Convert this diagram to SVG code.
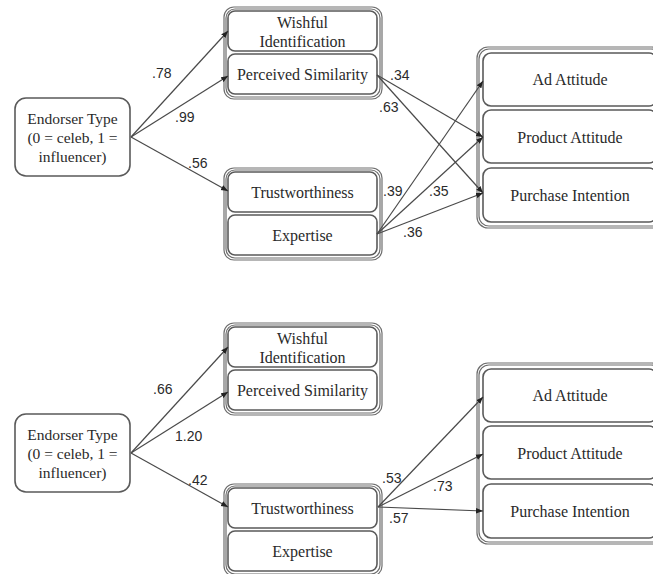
<svg xmlns="http://www.w3.org/2000/svg" width="653" height="574" viewBox="0 0 653 574">
  <style>
    .box { fill: #fff; stroke: #5a5a5a; stroke-width: 1.6; }
    .grp { fill: none; stroke: #6e6e6e; stroke-width: 1.2; }
    .t { font-family: "Liberation Serif", "Times New Roman", serif; font-size: 16px; fill: #2a2a2a; text-anchor: middle; }
    .t.src { font-size: 15.5px; }
    .lbl { font-family: "Liberation Sans", Arial, sans-serif; font-size: 14px; fill: #2a2a2a; }
    .edge { stroke: #4a4a4a; stroke-width: 1.2; fill: none; marker-end: url(#arrow); }
  </style>
  <defs>
    <marker id="arrow" viewBox="0 0 10 10" refX="10" refY="5" markerWidth="7" markerHeight="7" markerUnits="userSpaceOnUse" orient="auto">
      <path d="M0,1 L10,5 L0,9 z" fill="#222"/>
    </marker>
  </defs>
  <rect width="653" height="574" fill="#fff"/>

  <!-- Model 1 -->
  <g id="model1">
    <g id="m1-endorser">
      <rect class="box" x="15" y="98" width="115" height="78" rx="11"/>
      <text class="t src" x="72.5" y="124">Endorser Type</text>
      <text class="t src" x="72.5" y="143">(0 = celeb, 1 =</text>
      <text class="t src" x="72.5" y="162">influencer)</text>
    </g>
    <g id="m1-identification">
      <rect class="grp" x="224" y="7" width="158" height="92" rx="10"/>
      <rect class="grp" x="226" y="9" width="154" height="88" rx="9"/>
      <g id="m1-wishful">
        <rect class="box" x="228" y="11" width="149" height="40" rx="7"/>
        <text class="t" x="302.5" y="28">Wishful</text>
        <text class="t" x="302.5" y="47">Identification</text>
      </g>
      <g id="m1-similarity">
        <rect class="box" x="228" y="54" width="149" height="40" rx="7"/>
        <text class="t" x="302.5" y="79.5">Perceived Similarity</text>
      </g>
    </g>
    <g id="m1-credibility">
      <rect class="grp" x="224" y="168" width="158" height="92" rx="10"/>
      <rect class="grp" x="226" y="170" width="154" height="88" rx="9"/>
      <g id="m1-trust">
        <rect class="box" x="228" y="172" width="149" height="40" rx="7"/>
        <text class="t" x="302.5" y="197.5">Trustworthiness</text>
      </g>
      <g id="m1-expertise">
        <rect class="box" x="228" y="215" width="149" height="40" rx="7"/>
        <text class="t" x="302.5" y="240.5">Expertise</text>
      </g>
    </g>
    <g id="m1-outcomes">
      <rect class="grp" x="477" y="47" width="186" height="181" rx="11"/>
      <rect class="grp" x="479" y="49" width="182" height="177" rx="10"/>
      <g id="m1-ad">
        <rect class="box" x="483" y="53" width="174" height="53" rx="8"/>
        <text class="t" x="570" y="85">Ad Attitude</text>
      </g>
      <g id="m1-product">
        <rect class="box" x="483" y="110" width="174" height="53" rx="8"/>
        <text class="t" x="570" y="142.5">Product Attitude</text>
      </g>
      <g id="m1-purchase">
        <rect class="box" x="483" y="168" width="174" height="54" rx="8"/>
        <text class="t" x="570" y="200.5">Purchase Intention</text>
      </g>
    </g>
    <g id="m1-connectors">
      <line class="edge" x1="131" y1="137" x2="228" y2="31"/>
      <line class="edge" x1="131" y1="137" x2="228" y2="76"/>
      <line class="edge" x1="131" y1="137" x2="228" y2="191"/>
      <line class="edge" x1="377" y1="75" x2="483" y2="137"/>
      <line class="edge" x1="377" y1="75" x2="483" y2="193"/>
      <line class="edge" x1="377" y1="234" x2="483" y2="81"/>
      <line class="edge" x1="377" y1="234" x2="483" y2="137"/>
      <line class="edge" x1="377" y1="234" x2="483" y2="193"/>
      <text class="lbl" x="152" y="78">.78</text>
      <text class="lbl" x="175" y="122">.99</text>
      <text class="lbl" x="188" y="168">.56</text>
      <text class="lbl" x="390" y="80">.34</text>
      <text class="lbl" x="379" y="112">.63</text>
      <text class="lbl" x="383" y="196">.39</text>
      <text class="lbl" x="429" y="196">.35</text>
      <text class="lbl" x="403" y="237">.36</text>
    </g>
  </g>

  <!-- Model 2 -->
  <g id="model2" transform="translate(0,316)">
    <g id="m2-endorser">
      <rect class="box" x="15" y="98" width="115" height="78" rx="11"/>
      <text class="t src" x="72.5" y="124">Endorser Type</text>
      <text class="t src" x="72.5" y="143">(0 = celeb, 1 =</text>
      <text class="t src" x="72.5" y="162">influencer)</text>
    </g>
    <g id="m2-identification">
      <rect class="grp" x="224" y="7" width="158" height="92" rx="10"/>
      <rect class="grp" x="226" y="9" width="154" height="88" rx="9"/>
      <g id="m2-wishful">
        <rect class="box" x="228" y="11" width="149" height="40" rx="7"/>
        <text class="t" x="302.5" y="28">Wishful</text>
        <text class="t" x="302.5" y="47">Identification</text>
      </g>
      <g id="m2-similarity">
        <rect class="box" x="228" y="54" width="149" height="40" rx="7"/>
        <text class="t" x="302.5" y="79.5">Perceived Similarity</text>
      </g>
    </g>
    <g id="m2-credibility">
      <rect class="grp" x="224" y="168" width="158" height="92" rx="10"/>
      <rect class="grp" x="226" y="170" width="154" height="88" rx="9"/>
      <g id="m2-trust">
        <rect class="box" x="228" y="172" width="149" height="40" rx="7"/>
        <text class="t" x="302.5" y="197.5">Trustworthiness</text>
      </g>
      <g id="m2-expertise">
        <rect class="box" x="228" y="215" width="149" height="40" rx="7"/>
        <text class="t" x="302.5" y="240.5">Expertise</text>
      </g>
    </g>
    <g id="m2-outcomes">
      <rect class="grp" x="477" y="47" width="186" height="181" rx="11"/>
      <rect class="grp" x="479" y="49" width="182" height="177" rx="10"/>
      <g id="m2-ad">
        <rect class="box" x="483" y="53" width="174" height="53" rx="8"/>
        <text class="t" x="570" y="85">Ad Attitude</text>
      </g>
      <g id="m2-product">
        <rect class="box" x="483" y="110" width="174" height="53" rx="8"/>
        <text class="t" x="570" y="142.5">Product Attitude</text>
      </g>
      <g id="m2-purchase">
        <rect class="box" x="483" y="168" width="174" height="54" rx="8"/>
        <text class="t" x="570" y="200.5">Purchase Intention</text>
      </g>
    </g>
    <g id="m2-connectors">
      <line class="edge" x1="131" y1="137" x2="228" y2="31"/>
      <line class="edge" x1="131" y1="137" x2="228" y2="76"/>
      <line class="edge" x1="131" y1="137" x2="228" y2="191"/>
      <line class="edge" x1="378" y1="191" x2="483" y2="81"/>
      <line class="edge" x1="378" y1="191" x2="483" y2="138"/>
      <line class="edge" x1="378" y1="191" x2="483" y2="195"/>
      <text class="lbl" x="153" y="78">.66</text>
      <text class="lbl" x="175" y="125">1.20</text>
      <text class="lbl" x="188" y="169">.42</text>
      <text class="lbl" x="382" y="167">.53</text>
      <text class="lbl" x="433" y="175">.73</text>
      <text class="lbl" x="389" y="207">.57</text>
    </g>
  </g>
</svg>
